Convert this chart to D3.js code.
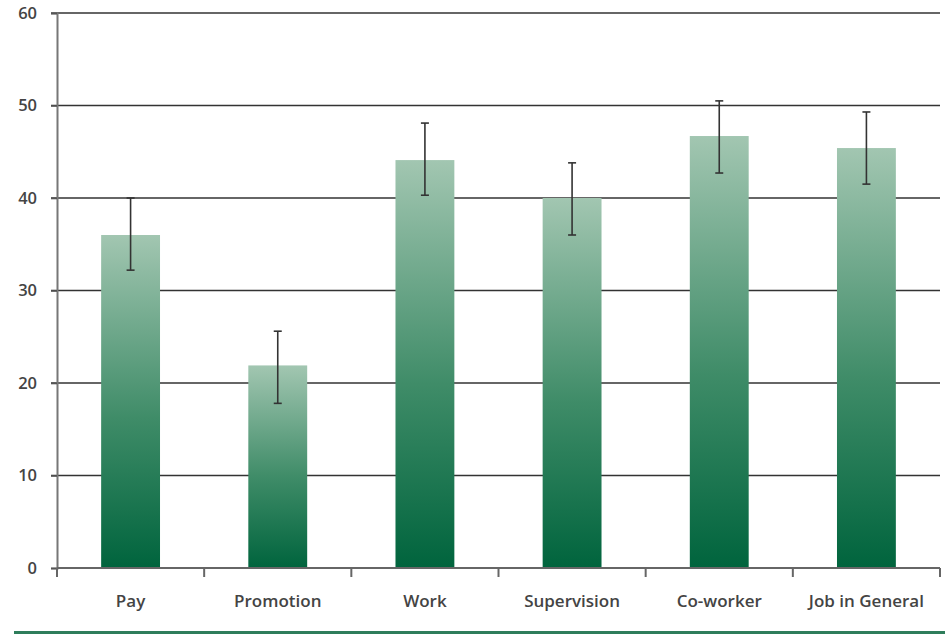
<!DOCTYPE html>
<html><head><meta charset="utf-8">
<script src="https://cdn.jsdelivr.net/npm/d3@7"></script>
<style>body{margin:0;background:#fff}</style>
</head><body>
<svg id="c" width="947" height="635"></svg>
<script>
const categories = ["Pay","Promotion","Work","Supervision","Co-worker","Job in General"];
const values = [36, 21.9, 44.1, 40, 46.7, 45.4];
const errLow = [32.2, 17.8, 40.3, 36, 42.7, 41.5];
const errHigh = [40, 25.6, 48.1, 43.8, 50.5, 49.3];
const yTicks = [0,10,20,30,40,50,60];

const svg = d3.select("#c");
const m = {l:57, r:940, t:13, b:568};
const x = d3.scaleBand().domain(categories).range([m.l, m.r]).paddingInner(0.6).paddingOuter(0.3);
const y = d3.scaleLinear().domain([0,60]).range([m.b, m.t]);
const font = "'Open Sans', sans-serif";

const defs = svg.append("defs");
const g = defs.append("linearGradient").attr("id","bg").attr("x1",0).attr("y1",0).attr("x2",0).attr("y2",1);
g.append("stop").attr("offset","0%").attr("stop-color","#a2c6b1");
g.append("stop").attr("offset","55%").attr("stop-color","#3f8c68");
g.append("stop").attr("offset","100%").attr("stop-color","#00643d");

// gridlines
svg.append("g").selectAll("line").data(yTicks.filter(d=>d>0)).join("line")
  .attr("x1", m.l-6).attr("x2", m.r).attr("y1", d=>y(d)).attr("y2", d=>y(d))
  .attr("stroke","#333").attr("stroke-width",1.6);

// bars
svg.append("g").selectAll("rect").data(values).join("rect")
  .attr("x",(d,i)=>x(categories[i])).attr("width", x.bandwidth())
  .attr("y", d=>y(d)).attr("height", d=>y(0)-y(d))
  .attr("fill","url(#bg)");

// error bars
const eg = svg.append("g").attr("stroke","#333").attr("stroke-width",1.6);
categories.forEach((c,i)=>{
  const cx = x(c)+x.bandwidth()/2;
  eg.append("line").attr("x1",cx).attr("x2",cx).attr("y1",y(errLow[i])).attr("y2",y(errHigh[i]));
  eg.append("line").attr("x1",cx-4).attr("x2",cx+4).attr("y1",y(errLow[i])).attr("y2",y(errLow[i]));
  eg.append("line").attr("x1",cx-4).attr("x2",cx+4).attr("y1",y(errHigh[i])).attr("y2",y(errHigh[i]));
});

// y axis
const ya = svg.append("g").attr("transform",`translate(${m.l},0)`)
  .call(d3.axisLeft(y).tickValues(yTicks).tickSize(6).tickPadding(14).tickFormat(d3.format("d")));
ya.select(".domain").attr("stroke","#777").attr("stroke-width",2);
ya.selectAll(".tick line").attr("stroke","#555").attr("stroke-width",1.6);
ya.selectAll("text").attr("font-family",font).attr("font-size",16.5).attr("font-weight",600).attr("fill","#444");

// x axis
const step = (m.r-m.l)/categories.length;
const bounds = d3.range(categories.length+1).map(i=>m.l+i*step);
const xa = svg.append("g");
xa.append("line").attr("x1",m.l).attr("x2",m.r).attr("y1",m.b).attr("y2",m.b).attr("stroke","#666").attr("stroke-width",2);
xa.selectAll(".tk").data(bounds).join("line").attr("class","tk")
  .attr("x1",d=>d).attr("x2",d=>d).attr("y1",m.b).attr("y2",m.b+9).attr("stroke","#666").attr("stroke-width",2);
xa.selectAll("text").data(categories).join("text")
  .attr("x",d=>x(d)+x.bandwidth()/2).attr("y",607).attr("text-anchor","middle")
  .attr("font-family",font).attr("font-size",17).attr("font-weight",600).attr("fill","#444").text(d=>d);

// bottom rule
svg.append("line").attr("x1",14).attr("x2",945).attr("y1",632.5).attr("y2",632.5).attr("stroke","#2e7d5b").attr("stroke-width",3);
</script>
</body></html>
